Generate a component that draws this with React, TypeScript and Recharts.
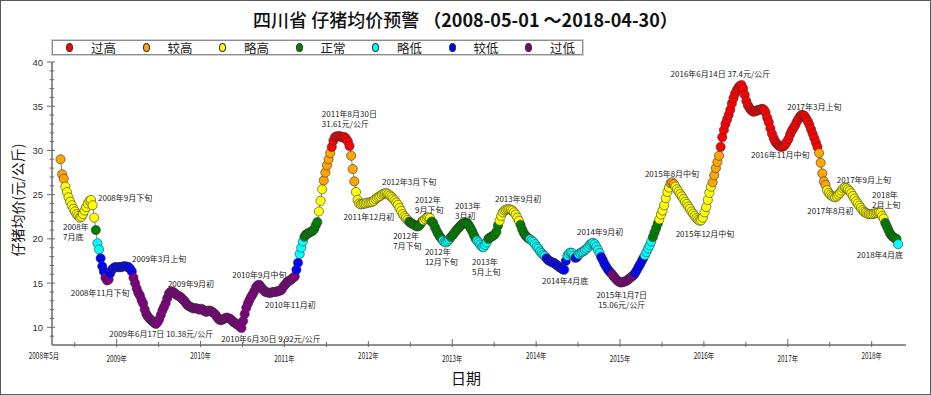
import { ComposedChart, Line, XAxis, YAxis, ReferenceDot } from "recharts";

const W = 931;
const H = 395;

// 预警等级
const levelNames = ["过高", "较高", "略高", "正常", "略低", "较低", "过低"];
const levelColors = ["#ff0000", "#ffa500", "#ffff00", "#008000", "#00ffff", "#0000ff", "#800080"];
const levelFloors = [30, 26, 22, 20, 18, 16, -Infinity];

// 周均价 (元/公斤)
const price2008 = [
  29.0, 27.3, 26.8, 25.9, 25.3, 24.7, 24.2, 23.8, 23.4, 23.1,
  22.8, 22.6, 22.4, 22.5, 22.8, 23.2, 23.6, 24.0, 24.3, 24.4,
  23.8, 22.4, 21.0, 19.5, 18.8, 17.8, 16.9, 16.3, 15.6, 15.3,
  15.4, 16.1, 16.5, 16.7, 16.8,
];
const price2009 = [
  16.8, 16.8, 16.8, 16.85, 16.9, 16.9, 16.85, 16.8, 16.6, 16.3,
  15.6, 15.0, 14.4, 13.9, 13.6, 13.1, 12.7, 12.0, 11.5, 11.2,
  11.0, 10.8, 10.65, 10.5, 10.38, 10.6, 10.9, 11.4, 11.9, 12.3,
  12.7, 13.3, 13.8, 14.0, 14.05, 13.95, 13.8, 13.65, 13.55, 13.45,
  13.3, 13.1, 12.9, 12.65, 12.45, 12.35, 12.25, 12.15, 12.15, 12.15,
  12.1, 12.0,
];
const price2010 = [
  12.1, 12.0, 11.85, 11.75, 11.8, 11.9, 11.85, 11.7, 11.6, 11.4,
  11.1, 10.9, 10.8, 10.85, 10.95, 11.05, 11.1, 11.0, 10.95, 10.8,
  10.6, 10.5, 10.35, 10.25, 10.1, 9.92, 10.7, 11.5, 12.2, 12.7,
  13.1, 13.45, 13.75, 14.1, 14.5, 14.75, 14.8, 14.6, 14.35, 14.15,
  14.0, 13.95, 13.9, 13.9, 13.95, 14.0, 14.0, 14.05, 14.1, 14.15,
  14.25, 14.6,
];
const price2011 = [
  14.8, 15.05, 15.2, 15.3, 15.45, 15.6, 15.75, 16.5, 17.3, 18.3,
  19.0, 19.7, 20.25, 20.5, 20.6, 20.7, 20.8, 20.9, 21.1, 21.5,
  21.9, 23.1, 24.3, 25.6, 26.6, 27.5, 28.3, 29.0, 29.7, 30.4,
  31.1, 31.5, 31.6, 31.6, 31.61, 31.5, 31.45, 31.5, 31.3, 31.0,
  30.5, 29.4, 27.9, 26.5, 25.3, 24.4, 24.0, 23.9, 23.95, 24.0,
  24.0, 24.1,
];
const price2012 = [
  24.1, 24.15, 24.2, 24.3, 24.5, 24.65, 24.75, 24.85, 25.0, 25.1,
  25.15, 25.15, 25.05, 24.9, 24.75, 24.55, 24.35, 24.1, 23.85, 23.5,
  23.15, 22.8, 22.55, 22.35, 22.15, 21.95, 21.8, 21.7, 21.6, 21.5,
  21.4, 21.45, 21.65, 21.95, 22.1, 22.25, 22.4, 22.45, 22.35, 21.95,
  21.8, 21.35, 20.95, 20.6, 20.3, 20.05, 19.8, 19.65, 19.6, 19.75,
  19.95, 20.2,
];
const price2013 = [
  20.45, 20.7, 20.95, 21.15, 21.35, 21.55, 21.7, 21.8, 21.85, 21.75,
  21.5, 21.2, 20.85, 20.45, 20.05, 19.8, 19.6, 19.35, 19.1, 19.05,
  19.3, 19.6, 20.0, 20.15, 20.25, 20.35, 20.5, 20.8, 21.5, 22.05,
  22.6, 23.0, 23.2, 23.3, 23.35, 23.35, 23.3, 23.2, 23.0, 22.75,
  22.4, 22.05, 21.6, 21.1, 20.7, 20.4, 20.2, 20.05, 19.95, 19.8,
  19.65, 19.4,
];
const price2014 = [
  19.1, 18.9, 18.6, 18.4, 18.2, 18.05, 17.8, 17.6, 17.5, 17.4,
  17.3, 17.25, 17.1, 16.95, 16.8, 16.7, 16.55, 16.5, 17.5, 18.1,
  18.35, 18.45, 18.4, 18.1, 17.85, 17.95, 18.25, 18.4, 18.5, 18.6,
  18.75, 18.9, 19.1, 19.35, 19.5, 19.55, 19.4, 19.1, 18.75, 18.4,
  17.95, 17.6, 17.2, 16.9, 16.6, 16.35, 16.15, 15.95, 15.7, 15.5,
  15.3, 15.15,
];
const price2015 = [
  15.06, 15.1, 15.15, 15.2, 15.3, 15.45, 15.6, 15.75, 15.9, 16.15,
  16.45, 16.8, 17.1, 17.45, 17.8, 18.15, 18.5, 18.9, 19.25, 19.7,
  20.2, 20.7, 21.2, 21.7, 22.2, 22.75, 23.2, 23.8, 24.6, 25.3,
  25.8, 26.3, 26.4, 26.2, 25.9, 25.6, 25.35, 25.05, 24.8, 24.5,
  24.2, 23.95, 23.65, 23.4, 23.1, 22.85, 22.6, 22.35, 22.15, 22.05,
  22.1, 22.4,
];
const price2016 = [
  23.0, 23.6, 24.4, 25.2, 25.9, 26.4, 27.2, 28.0, 28.7, 29.4,
  30.4, 31.5, 32.3, 33.0, 33.5, 34.0, 34.6, 35.3, 35.9, 36.4,
  36.8, 37.1, 37.3, 37.4, 37.0, 36.3, 35.6, 35.1, 34.8, 34.55,
  34.4, 34.4, 34.45, 34.55, 34.6, 34.65, 34.7, 34.6, 34.3, 33.7,
  33.2, 32.5, 31.9, 31.4, 31.0, 30.75, 30.6, 30.45, 30.4, 30.45,
  30.6, 30.9,
];
const price2017 = [
  31.3, 31.8, 32.2, 32.5, 32.8, 33.2, 33.5, 33.8, 34.0, 34.0,
  33.9, 33.6, 33.3, 32.9, 32.4, 31.9, 31.4, 30.9, 30.4, 29.7,
  28.6, 27.4, 26.5, 26.1, 25.5, 25.2, 25.0, 24.85, 24.75, 24.7,
  24.8, 25.0, 25.2, 25.45, 25.7, 25.8, 25.75, 25.6, 25.4, 25.15,
  24.85, 24.55, 24.25, 24.0, 23.75, 23.5, 23.25, 23.05, 22.95, 22.85,
  22.8, 22.8,
];
const price2018 = [
  22.8, 22.85, 22.9, 22.95, 23.0, 22.95, 22.6, 22.3, 21.8, 21.4,
  21.0, 20.6, 20.35, 20.2, 20.05, 20.0, 19.4,
];

// year, first day of year sampled, days in year
const yearSeries = [
  { year: 2008, start: 121, days: 366, values: price2008 },
  { year: 2009, start: 3, days: 365, values: price2009 },
  { year: 2010, start: 3, days: 365, values: price2010 },
  { year: 2011, start: 3, days: 365, values: price2011 },
  { year: 2012, start: 3, days: 366, values: price2012 },
  { year: 2013, start: 3, days: 365, values: price2013 },
  { year: 2014, start: 3, days: 365, values: price2014 },
  { year: 2015, start: 3, days: 365, values: price2015 },
  { year: 2016, start: 3, days: 366, values: price2016 },
  { year: 2017, start: 3, days: 365, values: price2017 },
  { year: 2018, start: 3, days: 365, values: price2018 },
];

const points = yearSeries.flatMap((s) =>
  s.values.map((v, i) => ({ t: s.year + (s.start + 7 * i) / s.days, v }))
);

const xStart = 2008.229;
const xEnd = 2018.409;
const xTicks = [
  xStart, 2008.5, 2009, 2009.5, 2010, 2010.5, 2011, 2011.5, 2012, 2012.5, 2013,
  2013.5, 2014, 2014.5, 2015, 2015.5, 2016, 2016.5, 2017, 2017.5, 2018,
];
const yTicks = [
  9, 10, 11, 12, 13, 14, 15, 16, 17, 18, 19, 20, 21, 22, 23, 24,
  25, 26, 27, 28, 29, 30, 31, 32, 33, 34, 35, 36, 37, 38, 39, 40,
];

// 标注: 时间, 价格, 文字
const notes = [
  { t: 2008.70, v: 24.4, lines: ["2008年9月下旬"] },
  { t: 2008.58, v: 22.4, lines: ["2008年", "7月底"] },
  { t: 2008.91, v: 15.3, lines: ["2008年11月下旬"] },
  { t: 2009.16, v: 16.6, lines: ["2009年3月上旬"] },
  { t: 2009.46, v: 10.38, lines: ["2009年6月17日 10.38元/公斤"] },
  { t: 2009.67, v: 14.05, lines: ["2009年9月初"] },
  { t: 2010.495, v: 9.92, lines: ["2010年6月30日 9,92元/公斤"] },
  { t: 2010.70, v: 14.8, lines: ["2010年9月中旬"] },
  { t: 2010.84, v: 13.9, lines: ["2010年11月初"] },
  { t: 2011.66, v: 31.61, lines: ["2011年8月30日", "31.61元/公斤"] },
  { t: 2011.92, v: 23.9, lines: ["2011年12月初"] },
  { t: 2012.23, v: 25.15, lines: ["2012年3月下旬"] },
  { t: 2012.73, v: 22.45, lines: ["2012年", "9月下旬"] },
  { t: 2012.57, v: 21.4, lines: ["2012年", "7月下旬"] },
  { t: 2012.96, v: 19.6, lines: ["2012年", "12月下旬"] },
  { t: 2013.16, v: 21.85, lines: ["2013年", "3月初"] },
  { t: 2013.35, v: 19.05, lines: ["2013年", "5月上旬"] },
  { t: 2013.67, v: 23.35, lines: ["2013年9月初"] },
  { t: 2014.33, v: 16.5, lines: ["2014年4月底"] },
  { t: 2014.68, v: 19.55, lines: ["2014年9月初"] },
  { t: 2015.02, v: 15.06, lines: ["2015年1月7日", "15.06元/公斤"] },
  { t: 2015.62, v: 26.4, lines: ["2015年8月中旬"] },
  { t: 2015.96, v: 22.05, lines: ["2015年12月中旬"] },
  { t: 2016.45, v: 37.4, lines: ["2016年6月14日 37.4元/公斤"] },
  { t: 2016.875, v: 30.4, lines: ["2016年11月中旬"] },
  { t: 2017.18, v: 34.0, lines: ["2017年3月上旬"] },
  { t: 2017.68, v: 25.8, lines: ["2017年9月上旬"] },
  { t: 2017.58, v: 24.7, lines: ["2017年8月初"] },
  { t: 2018.10, v: 23.0, lines: ["2018年", "2月上旬"] },
  { t: 2018.32, v: 19.4, lines: ["2018年4月底"] },
];
// 标注文字相对数据点的位置 (像素)
const noteLayout = [
  { dx: 6.5, dy: -2, anchor: "start" },
  { dx: -18.5, dy: 9, anchor: "start" },
  { dx: -9, dy: 12, anchor: "middle" },
  { dx: 2, dy: -10.7, anchor: "start" },
  { dx: 6, dy: 9.4, anchor: "middle" },
  { dx: -5, dy: -8.2, anchor: "start" },
  { dx: 29, dy: 10.3, anchor: "middle" },
  { dx: 0, dy: -10, anchor: "middle" },
  { dx: -6, dy: 11.5, anchor: "start" },
  { dx: -18, dy: -23, anchor: "start" },
  { dx: 7.3, dy: 12.3, anchor: "middle" },
  { dx: -5.7, dy: -11.7, anchor: "start" },
  { dx: -14.6, dy: -18.2, anchor: "start" },
  { dx: -23, dy: 9.2, anchor: "start" },
  { dx: -24, dy: 8.6, anchor: "start" },
  { dx: -10.7, dy: -16.6, anchor: "start" },
  { dx: -9.6, dy: 14.4, anchor: "start" },
  { dx: -13.5, dy: -10.3, anchor: "start" },
  { dx: 1.3, dy: 10.9, anchor: "middle" },
  { dx: 7, dy: -11.2, anchor: "middle" },
  { dx: 0, dy: 11.7, anchor: "middle" },
  { dx: 0, dy: -8.3, anchor: "middle" },
  { dx: 4.4, dy: 12.5, anchor: "middle" },
  { dx: -21.3, dy: -11, anchor: "middle" },
  { dx: 3, dy: 8, anchor: "middle" },
  { dx: 11.5, dy: -8.4, anchor: "middle" },
  { dx: -8, dy: -7.7, anchor: "start" },
  { dx: -6, dy: 13.3, anchor: "middle" },
  { dx: -8, dy: -17.4, anchor: "start" },
  { dx: -18.6, dy: 10.8, anchor: "middle" },
];

const CJK = '"Noto Sans CJK SC", "Noto Sans", sans-serif';
const AXIS = "#6a6a6a";

function levelColor(v: number) {
  const k = levelFloors.findIndex((f) => v >= f);
  return levelColors[k];
}

function BottomTick({ x, y, payload }: any) {
  const v = payload.value;
  const first = v === xStart;
  const isYear = Number.isInteger(v);
  const odd = isYear && v % 2 === 1;
  const up = odd ? 6 : isYear ? 4 : 3;
  const label = first ? "2008年5月" : isYear ? `${v}年` : "";
  return (
    <g>
      {!first && <line x1={x} x2={x} y1={y - up} y2={y + 2} stroke={AXIS} />}
      {label && (
        <text
          transform={`translate(${first ? x - 8 : x},${y + (odd ? 13 : 10)}) scale(0.75,1)`}
          textAnchor="middle"
          dominantBaseline="central"
          fontSize={8.5}
          fontFamily={CJK}
          fill="#222"
        >
          {label}
        </text>
      )}
    </g>
  );
}

function TopTick({ x, y, payload }: any) {
  const v = payload.value;
  if (v === xStart) return <g />;
  const isYear = Number.isInteger(v);
  const len = isYear ? (v % 2 === 1 ? 5 : 4) : 3;
  return <line x1={x} x2={x} y1={y} y2={y + len} stroke={AXIS} />;
}

function LeftTick({ x, y, payload }: any) {
  const v = payload.value;
  const major = v % 5 === 0;
  return (
    <g>
      <line x1={x - (major ? 5 : 2.5)} x2={x + (major ? 3 : 2)} y1={y} y2={y} stroke={AXIS} />
      {major && (
        <text
          x={x - 9}
          y={y}
          textAnchor="end"
          dominantBaseline="central"
          fontSize={9.5}
          fontFamily='"Liberation Sans", Arial, sans-serif'
          fill="#333"
        >
          {v}
        </text>
      )}
    </g>
  );
}

function RightTick({ x, y, payload }: any) {
  const major = payload.value % 5 === 0;
  return <line x1={x - (major ? 5 : 3)} x2={x} y1={y} y2={y} stroke={AXIS} />;
}

function NoteText({ cx, cy, lines, dx, dy, anchor }: any) {
  return (
    <g>
      {lines.map((s: string, k: number) => (
        <text
          key={k}
          x={cx + dx}
          y={cy + dy + k * 10}
          textAnchor={anchor}
          dominantBaseline="central"
          fontSize={8}
          fontFamily={CJK}
          fill="#1a1a1a"
        >
          {s}
        </text>
      ))}
    </g>
  );
}

function PriceDot(p: any) {
  if (p.cx == null || p.cy == null) return <g key={p.index} />;
  return (
    <circle
      key={p.index}
      cx={p.cx}
      cy={p.cy}
      r={4.6}
      fill={levelColor(p.payload.v)}
      stroke="#333"
      strokeWidth={0.6}
    />
  );
}

function LevelLegend() {
  return (
    <div
      style={{
        position: "absolute",
        left: 52,
        top: 40,
        width: 531,
        height: 15,
        boxSizing: "border-box",
        border: "1px solid #8c8c8c",
        boxShadow: "0 0 0 1px #d0d0d0",
      }}
    >
      {levelNames.map((name, k) => (
        <div key={name}>
          <div
            style={{
              position: "absolute",
              left: 13 + 76.5 * k,
              top: 2,
              width: 7,
              height: 9,
              borderRadius: "50%",
              background: levelColors[k],
              border: "0.5px solid #333",
              boxSizing: "border-box",
            }}
          />
          <div
            style={{
              position: "absolute",
              left: 38 + 76.5 * k,
              top: -2,
              fontSize: 12.5,
              lineHeight: "17px",
              fontFamily: CJK,
              color: "#222",
              whiteSpace: "nowrap",
            }}
          >
            {name}
          </div>
        </div>
      ))}
    </div>
  );
}

export default function App() {
  return (
    <div
      style={{
        position: "absolute",
        left: 0,
        top: 0,
        width: W,
        height: H,
        background: "#fff",
        overflow: "hidden",
        fontFamily: CJK,
      }}
    >
      <div
        style={{
          position: "absolute",
          left: 0,
          top: 7,
          width: W,
          textAlign: "center",
          fontSize: 18,
          lineHeight: "24px",
          color: "#111",
          whiteSpace: "nowrap",
        }}
      >
        <span style={{ fontWeight: 500 }}>四川省 仔猪均价预警 </span>
        <span style={{ fontWeight: 700 }}>（2008-05-01 ～2018-04-30）</span>
      </div>

      <LevelLegend />

      <ComposedChart
        width={W}
        height={H}
        data={points}
        margin={{ top: 62, right: 25, left: 12, bottom: 20 }}
        style={{ position: "absolute", left: 0, top: 0 }}
      >
        <XAxis
          xAxisId="b"
          dataKey="t"
          type="number"
          domain={[xStart, xEnd]}
          allowDataOverflow
          ticks={xTicks}
          interval={0}
          tickSize={0}
          tickMargin={0}
          tickLine={false}
          height={30}
          axisLine={{ stroke: AXIS, strokeWidth: 1.5 }}
          tick={(p: any) => <BottomTick {...p} />}
        />
        <XAxis
          xAxisId="t"
          orientation="top"
          dataKey="t"
          type="number"
          domain={[xStart, xEnd]}
          allowDataOverflow
          ticks={xTicks}
          interval={0}
          tickSize={0}
          tickMargin={0}
          tickLine={false}
          height={0}
          axisLine={{ stroke: AXIS, strokeWidth: 1.5 }}
          tick={(p: any) => <TopTick {...p} />}
        />
        <YAxis
          yAxisId="l"
          type="number"
          domain={[8, 40]}
          allowDataOverflow
          ticks={yTicks}
          interval={0}
          tickSize={0}
          tickMargin={0}
          tickLine={false}
          width={40}
          axisLine={{ stroke: AXIS, strokeWidth: 1.5 }}
          tick={(p: any) => <LeftTick {...p} />}
        />
        <YAxis
          yAxisId="r"
          orientation="right"
          type="number"
          domain={[8, 40]}
          allowDataOverflow
          ticks={yTicks}
          interval={0}
          tickSize={0}
          tickMargin={0}
          tickLine={false}
          width={0}
          axisLine={{ stroke: AXIS, strokeWidth: 1.5 }}
          tick={(p: any) => <RightTick {...p} />}
        />
        <Line
          xAxisId="b"
          yAxisId="l"
          dataKey="v"
          type="linear"
          stroke="#8a8a8a"
          strokeWidth={1}
          dot={(p: any) => <PriceDot key={p.index} {...p} />}
          activeDot={false}
          isAnimationActive={false}
        />
        {notes.map((n, k) => (
          <ReferenceDot
            key={k}
            xAxisId="b"
            yAxisId="l"
            x={n.t}
            y={n.v}
            r={1}
            ifOverflow="visible"
            shape={(p: any) => <NoteText cx={p.cx} cy={p.cy} lines={n.lines} {...noteLayout[k]} />}
          />
        ))}
      </ComposedChart>

      <div
        style={{
          position: "absolute",
          left: 17,
          top: 200,
          transform: "translate(-50%, -50%) rotate(-90deg)",
          fontSize: 14,
          color: "#111",
          whiteSpace: "nowrap",
        }}
      >
        仔猪均价(元/公斤)
      </div>
      <div
        style={{
          position: "absolute",
          left: 466,
          top: 377,
          transform: "translate(-50%, -50%)",
          fontSize: 15,
          color: "#111",
        }}
      >
        日期
      </div>
      <div
        style={{
          position: "absolute",
          inset: 0,
          border: "1px solid #5a5a5a",
          pointerEvents: "none",
        }}
      />
    </div>
  );
}
